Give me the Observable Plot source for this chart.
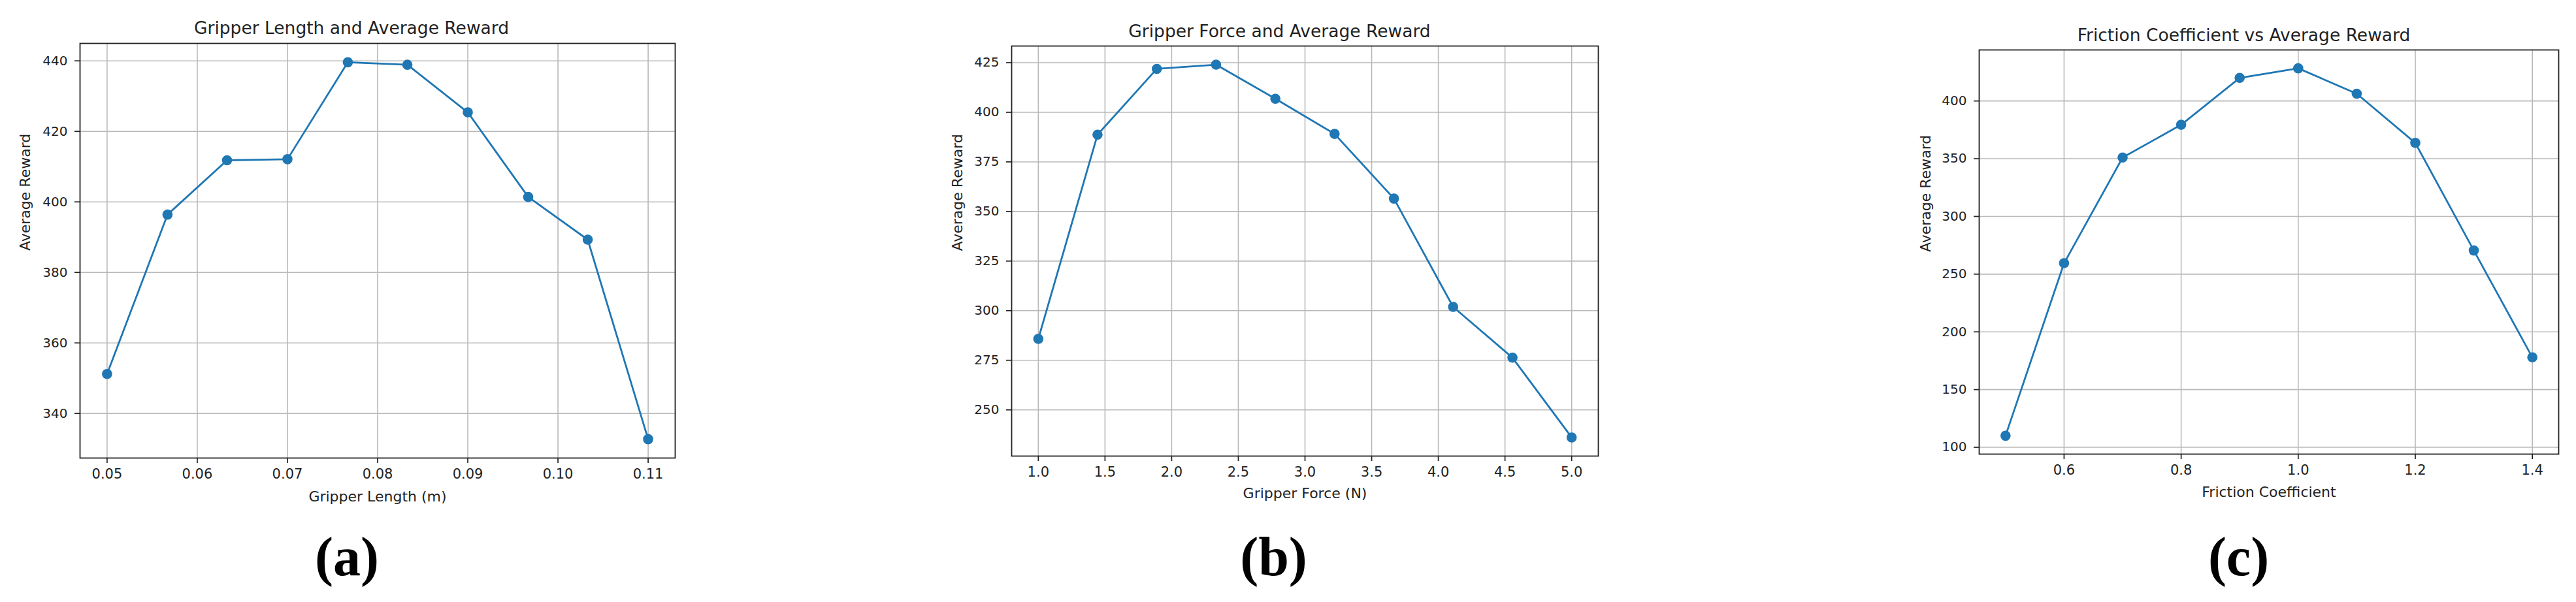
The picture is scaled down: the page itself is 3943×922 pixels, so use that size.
<!DOCTYPE html>
<html><head><meta charset="utf-8">
<script src="https://cdn.jsdelivr.net/npm/d3@7"></script>
<script src="https://cdn.jsdelivr.net/npm/@observablehq/plot@0.6"></script>
<style>
html,body{margin:0;padding:0;background:#fff;}
#wrap{position:relative;width:3943px;height:922px;overflow:hidden;background:#fff;}
#wrap svg{position:absolute;top:0;}
</style></head><body><div id="wrap"></div>
<script>
// Panel (a): gripper length
const lengthX = [0.05, 0.0567, 0.0633, 0.07, 0.0767, 0.0833, 0.09, 0.0967, 0.1033, 0.11];
const lengthReward = [351.2, 396.4, 411.8, 412.1, 439.6, 438.9, 425.4, 401.4, 389.3, 332.7];
const lengthXTicks = [0.05, 0.06, 0.07, 0.08, 0.09, 0.10, 0.11];
const lengthYTicks = [340, 360, 380, 400, 420, 440];

// Panel (b): gripper force
const forceX = [1.0, 1.444, 1.889, 2.333, 2.778, 3.222, 3.667, 4.111, 4.556, 5.0];
const forceReward = [285.8, 388.7, 421.9, 424.0, 406.8, 389.1, 356.5, 301.9, 276.3, 236.1];
const forceXTicks = [1.0, 1.5, 2.0, 2.5, 3.0, 3.5, 4.0, 4.5, 5.0];
const forceYTicks = [250, 275, 300, 325, 350, 375, 400, 425];

// Panel (c): friction coefficient
const frictionX = [0.5, 0.6, 0.7, 0.8, 0.9, 1.0, 1.1, 1.2, 1.3, 1.4];
const frictionReward = [110.0, 259.5, 351.0, 379.4, 420.0, 428.3, 406.3, 363.7, 270.5, 177.9];
const frictionXTicks = [0.6, 0.8, 1.0, 1.2, 1.4];
const frictionYTicks = [100, 150, 200, 250, 300, 350, 400];

const titles = ["Gripper Length and Average Reward", "Gripper Force and Average Reward", "Friction Coefficient vs Average Reward"];
const xLabels = ["Gripper Length (m)", "Gripper Force (N)", "Friction Coefficient"];
const yLabel = "Average Reward";
const captions = ["(a)", "(b)", "(c)"];

const BLUE = "#1f77b4", INK = "#222", GRID = "#b9b9b9";
const pad = a => { const [lo, hi] = d3.extent(a); const m = (hi - lo) * 0.05; return [lo - m, hi + m]; };

function panel(c) {
  const rows = c.xs.map((x, i) => ({x, y: c.ys[i]}));
  const svg = Plot.plot({
    width: c.width, height: 922,
    marginLeft: c.ml, marginRight: c.mr, marginTop: c.mt, marginBottom: c.mb,
    style: {fontFamily: "DejaVu Sans", color: INK, background: "transparent", overflow: "visible"},
    x: {domain: pad(c.xs)},
    y: {domain: pad(c.ys)},
    marks: [
      Plot.gridX(c.xTicks, {stroke: GRID, strokeOpacity: 1, strokeWidth: 1.6}),
      Plot.gridY(c.yTicks, {stroke: GRID, strokeOpacity: 1, strokeWidth: 1.6}),
      Plot.line(rows, {x: "x", y: "y", stroke: BLUE, strokeWidth: 2.8}),
      Plot.dot(rows, {x: "x", y: "y", r: 7.8, fill: BLUE, stroke: "none"}),
      Plot.frame({stroke: INK, strokeWidth: 1.8}),
      Plot.axisX({ticks: c.xTicks, tickFormat: d3.format(c.xFmt), tickSize: 8, tickPadding: 9, fontSize: 21, strokeWidth: 1.7, label: null}),
      Plot.axisY({ticks: c.yTicks, tickFormat: d3.format("d"), tickSize: 8, tickPadding: 11, fontSize: 20, strokeWidth: 1.7, label: null}),
      Plot.text([c.title], {text: d => d, frameAnchor: "top", dx: c.titleDx, dy: c.titleDy, lineAnchor: "bottom", fontSize: 26.5, fill: INK}),
      Plot.text([c.xLabel], {text: d => d, frameAnchor: "bottom", dy: c.xLabelDy, lineAnchor: "bottom", fontSize: 22, fill: INK}),
      Plot.text([yLabel], {text: d => d, frameAnchor: "left", dx: c.yLabelDx, rotate: -90, fontSize: 22, fill: INK}),
      Plot.text([c.caption], {text: d => d, frameAnchor: "bottom", dx: c.capDx, dy: c.capDy, lineAnchor: "bottom", fontSize: 84, fontFamily: "Liberation Serif", fontWeight: "bold", fill: "#000"})
    ]
  });
  svg.style.left = c.left + "px";
  document.getElementById("wrap").appendChild(svg);
}

panel({xs: lengthX, ys: lengthReward, xTicks: lengthXTicks, yTicks: lengthYTicks, xFmt: ".2f",
  title: titles[0], xLabel: xLabels[0], caption: captions[0],
  left: 0, width: 1100, ml: 122, mr: 67, mt: 66, mb: 221,
  titleDx: -40, titleDy: -14.3, xLabelDy: 66, yLabelDx: -84, capDx: -47, capDy: 179});

panel({xs: forceX, ys: forceReward, xTicks: forceXTicks, yTicks: forceYTicks, xFmt: ".1f",
  title: titles[1], xLabel: xLabels[1], caption: captions[1],
  left: 1400, width: 1100, ml: 148, mr: 54, mt: 70, mb: 224,
  titleDx: -39, titleDy: -14, xLabelDy: 64, yLabelDx: -83, capDx: -48, capDy: 182});

panel({xs: frictionX, ys: frictionReward, xTicks: frictionXTicks, yTicks: frictionYTicks, xFmt: ".1f",
  title: titles[2], xLabel: xLabels[2], caption: captions[2],
  left: 2880, width: 1063, ml: 149, mr: 27, mt: 76, mb: 227,
  titleDx: -38.5, titleDy: -14, xLabelDy: 65, yLabelDx: -82, capDx: -46.5, capDy: 185});
</script>
</body></html>
